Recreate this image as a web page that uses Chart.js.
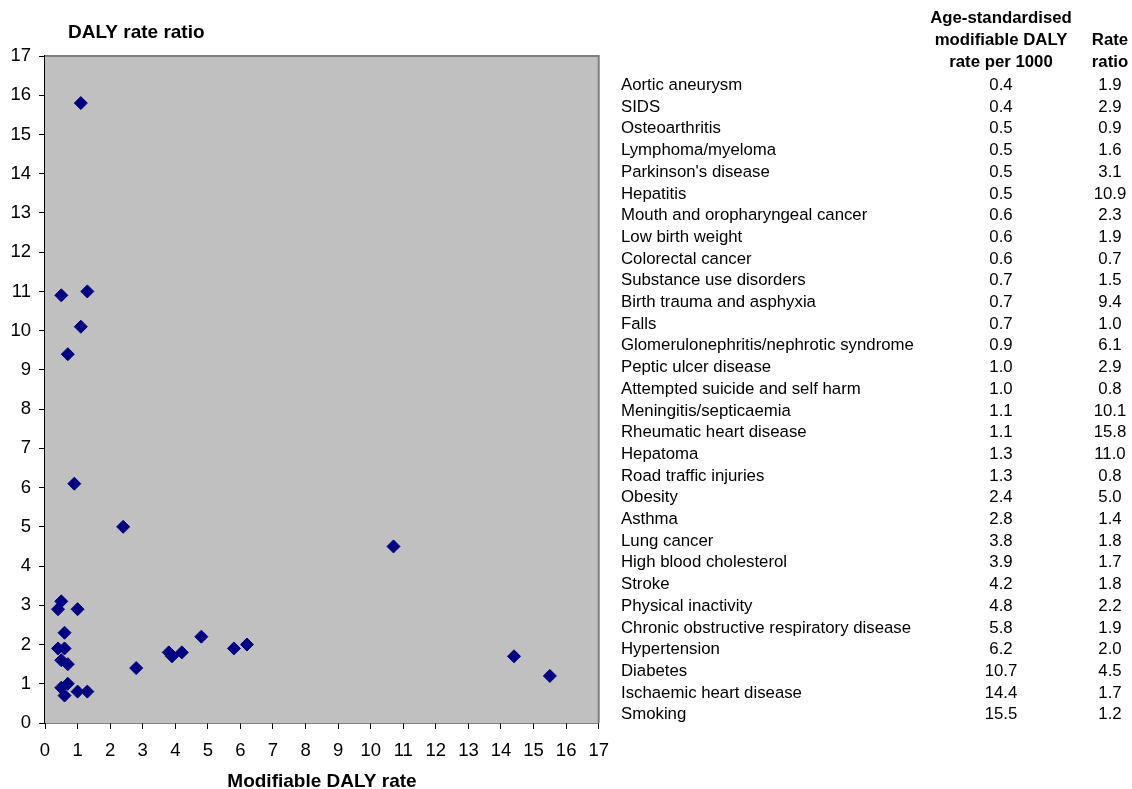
<!DOCTYPE html>
<html>
<head>
<meta charset="utf-8">
<script src="https://cdn.jsdelivr.net/npm/chart.js@4.4.0/dist/chart.umd.min.js"></script>
<style>
  body { margin: 0; background: #fff; width: 1132px; height: 789px; position: relative; overflow: hidden; }
  #wrap { position: absolute; left: 0; top: 0; width: 620px; height: 789px; }
  #tbl { position: absolute; left: 0; top: 0; width: 1132px; height: 789px; pointer-events: none;
         font-family: "Liberation Sans", Arial, sans-serif; font-size: 16.8px; color: #000; }
  #tbl div { position: absolute; white-space: nowrap; line-height: 18px; }
  .hd { font-weight: bold; text-align: center; }
  .num { text-align: center; width: 80px; }
</style>
</head>
<body>
<div id="wrap"><canvas id="myChart" width="620" height="789"></canvas></div>
<div id="tbl"></div>
<script>
// table rows (also the scatter points)
var causes = ['Aortic aneurysm', 'SIDS', 'Osteoarthritis', 'Lymphoma/myeloma', "Parkinson's disease",
  'Hepatitis', 'Mouth and oropharyngeal cancer', 'Low birth weight', 'Colorectal cancer',
  'Substance use disorders', 'Birth trauma and asphyxia', 'Falls',
  'Glomerulonephritis/nephrotic syndrome', 'Peptic ulcer disease', 'Attempted suicide and self harm',
  'Meningitis/septicaemia', 'Rheumatic heart disease', 'Hepatoma', 'Road traffic injuries',
  'Obesity', 'Asthma', 'Lung cancer', 'High blood cholesterol', 'Stroke', 'Physical inactivity',
  'Chronic obstructive respiratory disease', 'Hypertension', 'Diabetes', 'Ischaemic heart disease',
  'Smoking'];
var dalyRate = [0.4, 0.4, 0.5, 0.5, 0.5, 0.5, 0.6, 0.6, 0.6, 0.7, 0.7, 0.7, 0.9, 1.0, 1.0,
  1.1, 1.1, 1.3, 1.3, 2.4, 2.8, 3.8, 3.9, 4.2, 4.8, 5.8, 6.2, 10.7, 14.4, 15.5];
var rateRatio = [1.9, 2.9, 0.9, 1.6, 3.1, 10.9, 2.3, 1.9, 0.7, 1.5, 9.4, 1.0, 6.1, 2.9, 0.8,
  10.1, 15.8, 11.0, 0.8, 5.0, 1.4, 1.8, 1.7, 1.8, 2.2, 1.9, 2.0, 4.5, 1.7, 1.2];
var tickValues = [0, 1, 2, 3, 4, 5, 6, 7, 8, 9, 10, 11, 12, 13, 14, 15, 16, 17];

var points = dalyRate.map(function (x, i) { return { x: x, y: rateRatio[i] }; });

// right hand table
var tbl = document.getElementById('tbl');
function addText(txt, x, y, cls) {
  var d = document.createElement('div');
  d.textContent = txt;
  d.style.left = x + 'px';
  d.style.top = y + 'px';
  if (cls) d.className = cls;
  tbl.appendChild(d);
  return d;
}
var h1 = ['Age-standardised', 'modifiable DALY', 'rate per 1000'];
h1.forEach(function (t, i) {
  var d = addText(t, 926, 9 + i * 22, 'hd'); d.style.width = '150px';
});
['Rate', 'ratio'].forEach(function (t, i) {
  var d = addText(t, 1080, 31 + i * 22, 'hd'); d.style.width = '60px';
});
causes.forEach(function (c, i) {
  var y = 76 + i * 21.7;
  addText(c, 621, y);
  addText(dalyRate[i].toFixed(1), 961, y, 'num');
  addText(rateRatio[i].toFixed(1), 1070, y, 'num');
});

// axis titles + plot frame
var decor = {
  id: 'decor',
  beforeDatasetsDraw: function (chart) {
    var a = chart.chartArea, c = chart.ctx;
    c.save();
    c.fillStyle = '#c0c0c0';
    c.fillRect(a.left, a.top, a.right - a.left, a.bottom - a.top);
    c.strokeStyle = '#808080';
    c.lineWidth = 2;
    c.beginPath();
    c.moveTo(a.left, a.top); c.lineTo(a.right, a.top); c.lineTo(a.right, a.bottom);
    c.stroke();
    c.restore();
  },
  afterDraw: function (chart) {
    var c = chart.ctx;
    c.save();
    c.fillStyle = '#000';
    c.font = 'bold 19px "Liberation Sans", Arial, sans-serif';
    c.textBaseline = 'middle';
    c.textAlign = 'left';
    c.fillText('DALY rate ratio', 68, 33);
    c.textAlign = 'center';
    c.fillText('Modifiable DALY rate', 322, 782);
    c.restore();
  }
};

var ctx = document.getElementById('myChart').getContext('2d');
var tickFont = { family: '"Liberation Sans", Arial, sans-serif', size: 18.5 };

var myChart = new Chart(ctx, {
  type: 'scatter',
  data: {
    datasets: [{
      label: 'Causes',
      data: points,
      pointStyle: 'rectRot',
      pointRadius: 6.5,
      backgroundColor: '#000080',
      borderColor: '#000080',
      borderWidth: 1
    }]
  },
  options: {
    responsive: false,
    animation: false,
    layout: { padding: { top: 56, right: 17, left: 0, bottom: 0 } },
    plugins: { legend: { display: false }, tooltip: { enabled: false } },
    scales: {
      x: {
        type: 'linear', min: 0, max: 17,
        afterBuildTicks: function (s) { s.ticks = tickValues.map(function (v) { return { value: v }; }); },
        afterFit: function (s) { s.height = 66; },
        grid: { display: true, drawOnChartArea: false, drawTicks: true, tickLength: 6, color: '#000', tickColor: '#000' },
        border: { color: '#000', width: 1.5 },
        ticks: { color: '#000', font: tickFont, padding: 11, maxRotation: 0, autoSkip: false }
      },
      y: {
        type: 'linear', min: 0, max: 17,
        afterBuildTicks: function (s) { s.ticks = tickValues.map(function (v) { return { value: v }; }); },
        afterFit: function (s) { s.width = 45; },
        grid: { display: true, drawOnChartArea: false, drawTicks: true, tickLength: 6, color: '#000', tickColor: '#000' },
        border: { color: '#000', width: 1.5 },
        ticks: { color: '#000', font: tickFont, padding: 8, autoSkip: false }
      }
    }
  },
  plugins: [decor]
});
</script>
</body>
</html>
